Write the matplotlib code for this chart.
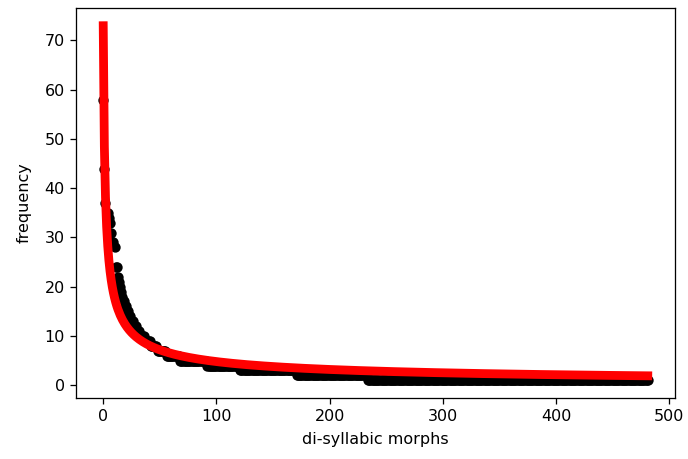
import numpy as np
import matplotlib
matplotlib.use("Agg")
from matplotlib import pyplot

# frequency of each rank, stored as (frequency, number of morphs with it)
freq_values = [58, 44, 37, 35, 34, 33, 31, 29, 28, 24, 22, 21, 20, 19, 18, 17,
               16, 15, 14, 13, 12, 11, 10, 9, 8, 7, 6, 5, 4, 3, 2, 1]
freq_counts = [1, 1, 1, 2, 1, 1, 1, 2, 1, 2, 1, 1, 1, 1, 1, 1,
               2, 2, 2, 2, 3, 3, 4, 5, 6, 8, 12, 24, 29, 50, 63, 248]

# power law fit y = a * (rank+1)^-b
fit_a = 73.0
fit_b = 0.59

freqs = np.repeat(freq_values, freq_counts)
ranks = np.arange(len(freqs))
fit = fit_a * (ranks + 1.0) ** (-fit_b)

dpi = 115
fig = pyplot.figure(figsize=(688/dpi, 459/dpi), dpi=dpi)
ax = fig.add_axes([76/688, 1-398/459, (675-76)/688, (398-8)/459])
ax.scatter(ranks, freqs, c='black', s=30)
ax.plot(ranks, fit, c='red', lw=5.5)
ax.set_xlabel('di-syllabic morphs', labelpad=5)
ax.set_ylabel('frequency', labelpad=8)

pyplot.savefig('out.png', dpi=dpi)
pyplot.close()
